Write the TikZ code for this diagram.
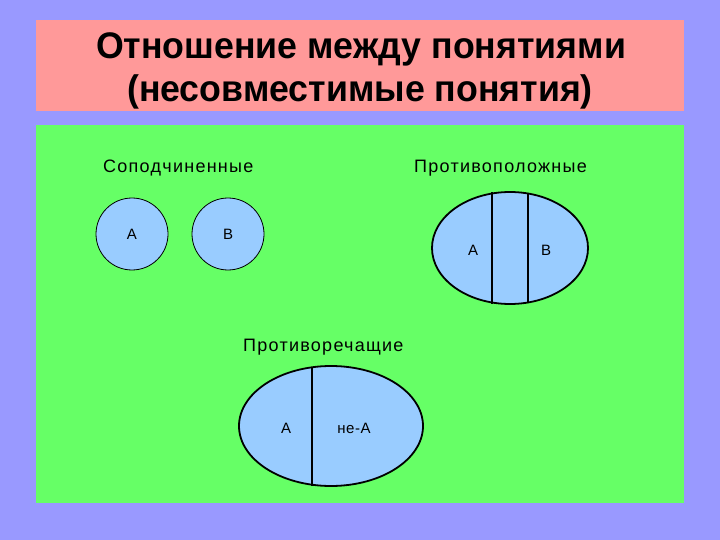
\documentclass[tikz,border=0pt]{standalone}
\usepackage{fontspec}
\setmainfont{Liberation Sans}
\usetikzlibrary{shapes.geometric}
\definecolor{bgblue}{HTML}{9999FF}
\definecolor{titlepink}{HTML}{FF9999}
\definecolor{fieldgreen}{HTML}{66FF66}
\definecolor{setblue}{HTML}{99CCFF}
\tikzset{
  setshape/.style={draw=black, fill=setblue},
  titlefont/.style={font=\bfseries\fontsize{37}{42}\selectfont, inner sep=0pt, anchor=base},
  lbl/.style={font=\fontsize{18}{22}\selectfont\addfontfeature{LetterSpace=7}, inner sep=0pt, anchor=base west},
  inlbl/.style={font=\fontsize{15}{18}\selectfont\addfontfeature{LetterSpace=4}, inner sep=0pt},
}
\begin{document}
\begin{tikzpicture}[x=1pt,y=-1pt]
\useasboundingbox (0,0) rectangle (720,540);
\fill[bgblue] (0,0) rectangle (720,540);
\fill[titlepink] (36,20) rectangle (684,111);
\fill[fieldgreen] (36,125) rectangle (684,503);
\node[titlefont] (title1) at (361,59) {\scalebox{0.965}[1]{Отношение между понятиями}};
\node[titlefont] (title2) at (360,102) {\scalebox{0.965}[1]{(несовместимые понятия)}};
% Соподчиненные
\node[lbl] (l1) at (103,173) {Соподчиненные};
\node[setshape, circle, minimum size=72pt, line width=0.8pt, inner sep=0pt] (ca) at (132,234) {};
\node[setshape, circle, minimum size=72pt, line width=0.8pt, inner sep=0pt] (cb) at (228,234) {};
\node[inlbl] (ta) at (ca) {А};
\node[inlbl] (tb) at (cb) {В};
% Противоположные
\node[lbl] (l2) at (414,173) {Противоположные};
\node[setshape, ellipse, minimum width=156pt, minimum height=112pt, line width=1.8pt, inner sep=0pt] (e1) at (510,248) {};
\draw[line width=1.8pt] (492,192.4) -- (492,303.6);
\draw[line width=1.8pt] (528,192.8) -- (528,303.2);
\node[inlbl] (ea) at (473,250) {А};
\node[inlbl] (eb) at (546,250) {В};
% Противоречащие
\node[lbl] (l3) at (243,351) {Противоречащие};
\node[setshape, ellipse, minimum width=184pt, minimum height=120pt, line width=1.8pt, inner sep=0pt] (e2) at (331,426) {};
\draw[line width=1.8pt] (312,366.5) -- (312,485.5);
\node[inlbl] (fa) at (286,428) {А};
\node[inlbl] (fb) at (354,428) {не-А};
\end{tikzpicture}
\end{document}
